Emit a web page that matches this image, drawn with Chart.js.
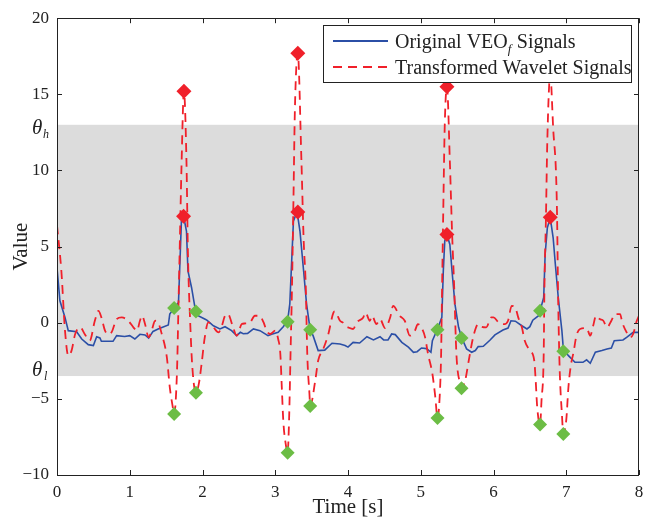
<!DOCTYPE html>
<html>
<head>
<meta charset="utf-8">
<script src="https://cdn.jsdelivr.net/npm/chart.js@4.4.0/dist/chart.umd.min.js"></script>
<style>
  html, body { margin: 0; padding: 0; background: #fff; }
</style>
</head>
<body>
<canvas id="signalChart" width="655" height="522"></canvas>
<script>
// original signal (blue)
var blueTime = [0.00, 0.04, 0.11, 0.155, 0.27, 0.34, 0.43, 0.50, 0.545, 0.59, 0.61, 0.77, 0.82, 0.93, 1.00, 1.07, 1.14, 1.21, 1.26, 1.32, 1.39, 1.53, 1.55, 1.61, 1.67, 1.71, 1.74, 1.78, 1.80, 1.85, 1.90, 1.94, 2.03, 2.06, 2.15, 2.24, 2.31, 2.40, 2.47, 2.52, 2.56, 2.62, 2.70, 2.79, 2.90, 2.95, 3.04, 3.11, 3.17, 3.20, 3.23, 3.25, 3.30, 3.34, 3.39, 3.43, 3.48, 3.52, 3.59, 3.68, 3.78, 3.89, 3.96, 4.00, 4.07, 4.16, 4.26, 4.35, 4.44, 4.49, 4.55, 4.60, 4.65, 4.74, 4.83, 4.90, 4.95, 5.01, 5.08, 5.14, 5.16, 5.23, 5.29, 5.31, 5.33, 5.36, 5.40, 5.43, 5.47, 5.52, 5.56, 5.63, 5.70, 5.75, 5.79, 5.86, 5.95, 6.02, 6.13, 6.20, 6.24, 6.30, 6.39, 6.46, 6.50, 6.54, 6.62, 6.64, 6.69, 6.71, 6.74, 6.78, 6.82, 6.85, 6.89, 6.94, 6.96, 7.03, 7.12, 7.23, 7.28, 7.33, 7.40, 7.49, 7.56, 7.62, 7.66, 7.78, 7.83, 7.92, 8.00];
var blueValue = [3.6, 1.44, 0.35, -0.52, -0.59, -1.07, -1.44, -1.5, -0.92, -1.0, -1.22, -1.22, -0.85, -0.9, -0.85, -1.07, -0.76, -0.8, -1.0, -0.57, -0.41, -0.15, 0.57, 0.96, 1.33, 6.67, 7.0, 6.0, 3.4, 2.3, 0.9, 0.46, 0.25, 0.17, -0.2, -0.41, -0.26, -0.52, -0.85, -0.63, -0.72, -0.7, -0.41, -0.52, -0.85, -0.75, -0.63, -0.26, 0.13, 1.24, 4.5, 6.67, 7.3, 6.0, 3.4, 1.24, -0.46, -0.85, -1.83, -1.8, -1.35, -1.4, -1.5, -1.6, -1.29, -1.33, -0.92, -1.13, -0.92, -1.13, -1.13, -0.74, -0.78, -1.29, -1.6, -1.94, -1.9, -1.66, -1.7, -1.94, -1.18, -0.41, 0.35, 3.4, 5.36, 5.8, 5.14, 3.4, 1.22, -0.3, -0.96, -1.72, -1.94, -1.83, -1.57, -1.55, -1.15, -0.8, -0.48, -0.35, 0.13, 0.1, -0.2, -0.41, -0.26, 0.17, 0.46, 0.78, 1.66, 4.5, 6.23, 6.9, 5.58, 3.84, 1.66, -0.52, -1.72, -2.16, -2.6, -2.6, -2.44, -2.66, -1.94, -1.83, -1.72, -1.66, -1.18, -1.13, -0.96, -0.63, -0.63];

// transformed wavelet signal (red dashed)
var redTime = [0.00, 0.06, 0.11, 0.155, 0.20, 0.25, 0.32, 0.38, 0.45, 0.52, 0.57, 0.61, 0.66, 0.70, 0.75, 0.82, 0.89, 0.98, 1.05, 1.10, 1.14, 1.17, 1.21, 1.26, 1.30, 1.35, 1.39, 1.44, 1.51, 1.55, 1.59, 1.61, 1.65, 1.67, 1.69, 1.71, 1.745, 1.78, 1.80, 1.83, 1.86, 1.91, 1.95, 1.99, 2.03, 2.08, 2.15, 2.22, 2.26, 2.31, 2.35, 2.42, 2.47, 2.54, 2.58, 2.65, 2.72, 2.78, 2.84, 2.88, 2.93, 3.00, 3.04, 3.07, 3.09, 3.11, 3.15, 3.17, 3.19, 3.21, 3.23, 3.25, 3.27, 3.31, 3.36, 3.39, 3.42, 3.44, 3.47, 3.48, 3.55, 3.59, 3.66, 3.73, 3.80, 3.82, 3.89, 3.93, 3.96, 4.00, 4.07, 4.12, 4.21, 4.24, 4.30, 4.33, 4.39, 4.44, 4.51, 4.58, 4.62, 4.71, 4.78, 4.85, 4.92, 4.96, 5.03, 5.06, 5.10, 5.16, 5.20, 5.23, 5.26, 5.28, 5.29, 5.31, 5.33, 5.36, 5.40, 5.43, 5.46, 5.49, 5.54, 5.56, 5.61, 5.66, 5.72, 5.79, 5.81, 5.90, 5.97, 6.00, 6.07, 6.15, 6.20, 6.25, 6.30, 6.34, 6.39, 6.43, 6.50, 6.56, 6.58, 6.60, 6.64, 6.66, 6.69, 6.70, 6.72, 6.74, 6.78, 6.82, 6.87, 6.89, 6.91, 6.94, 6.96, 7.00, 7.03, 7.06, 7.10, 7.14, 7.19, 7.28, 7.33, 7.37, 7.41, 7.46, 7.51, 7.56, 7.62, 7.67, 7.74, 7.77, 7.83, 7.88, 7.92, 7.97, 8.00];
var redValue = [6.4, 3.4, -0.52, -2.16, -1.83, -0.74, -0.3, -0.74, -1.18, 0.13, 0.78, 0.35, -0.52, -0.74, -0.63, 0.24, 0.35, 0.13, -0.3, -0.52, 0.13, 0.46, -0.09, -0.96, -0.52, 0.13, 0.02, -0.74, -2.27, -4.23, -5.5, -6.0, -3.1, 1.22, 5.58, 10.0, 15.2, 10.5, 4.5, 0.13, -2.9, -4.6, -4.0, -2.6, -1.0, 0.02, -0.3, -0.63, -0.3, 0.46, 0.57, -0.3, -0.85, -0.09, -0.05, 0.0, 0.46, 0.46, 0.02, -0.52, -0.74, -0.52, -1.07, -2.05, -4.23, -6.4, -8.15, -8.54, -6.4, -2.05, 2.3, 8.0, 14.0, 17.7, 10.6, 5.5, 2.3, -2.05, -4.66, -5.47, -3.8, -2.48, -1.72, -0.74, 0.67, 0.74, 0.13, 0.0, -0.2, -0.3, -0.41, 0.02, 0.35, 0.67, 0.13, 0.46, -0.09, 0.24, -0.35, 0.35, 1.11, 0.46, 0.13, -0.85, -0.52, -0.09, -0.52, -0.96, -2.05, -3.35, -4.88, -6.25, -4.88, -2.05, 1.22, 7.5, 13.0, 15.5, 10.6, 6.0, 2.3, -2.05, -4.0, -4.3, -3.8, -2.48, -0.96, -0.09, -0.2, -0.3, 0.35, 0.35, 0.02, -0.09, 0.13, 1.11, 1.0, 0.35, -0.3, -1.18, -1.83, -2.48, -3.8, -5.5, -6.69, -5.1, -2.05, 2.3, 6.67, 12.0, 16.3, 12.8, 8.0, 1.22, -3.1, -5.97, -7.3, -6.4, -4.23, -2.9, -1.94, -0.85, -0.41, -0.35, -0.85, -0.2, 0.46, 0.24, 0.13, -0.3, 0.13, 0.57, 0.57, 0.02, -0.63, -0.96, -0.74, 0.13, 0.46];

// red diamonds (maxima) and green diamonds (minima)
var peakTime = [1.745, 1.74, 3.31, 3.31, 5.36, 5.36, 6.78, 6.78];
var peakValue = [15.2, 7.0, 17.7, 7.27, 15.5, 5.8, 16.3, 6.93];
var valleyTime = [1.61, 1.61, 1.91, 1.91, 3.17, 3.17, 3.48, 3.48, 5.23, 5.23, 5.56, 5.56, 6.64, 6.64, 6.96, 6.96];
var valleyValue = [0.96, -6.0, 0.74, -4.6, 0.07, -8.54, -0.46, -5.47, -0.46, -6.25, -1.0, -4.3, 0.78, -6.69, -1.87, -7.3];

// thresholds
var thetaHigh = 13;
var thetaLow = -3.5;

var legendLabels = ['Original VEO', 'Transformed Wavelet Signals'];

function toPoints(xs, ys) {
    return xs.map(function(x, i) { return {x: x, y: ys[i]}; });
}

var SERIF = '"Liberation Serif", "Times New Roman", serif';
var BLUE = '#2b4fa6';
var RED = '#f0202a';
var GREEN = '#6cbd45';

// gray threshold band
var bandPlugin = {
    id: 'band',
    beforeDatasetsDraw: function(chart) {
        var ctx = chart.ctx, a = chart.chartArea, y = chart.scales.y;
        var top = y.getPixelForValue(thetaHigh), bot = y.getPixelForValue(thetaLow);
        ctx.save();
        ctx.fillStyle = '#dcdcdc';
        ctx.fillRect(a.left, top, a.right - a.left, bot - top);
        ctx.restore();
    }
};

// box, inward ticks, threshold labels, legend
var framePlugin = {
    id: 'frame',
    afterDraw: function(chart) {
        var ctx = chart.ctx, a = chart.chartArea;
        var xs = chart.scales.x, ys = chart.scales.y;
        ctx.save();
        ctx.strokeStyle = '#222';
        ctx.lineWidth = 1;
        ctx.beginPath();
        xs.ticks.forEach(function(t) {
            var px = Math.round(xs.getPixelForValue(t.value)) + 0.5;
            ctx.moveTo(px, a.bottom); ctx.lineTo(px, a.bottom - 5);
            ctx.moveTo(px, a.top); ctx.lineTo(px, a.top + 5);
        });
        ys.ticks.forEach(function(t) {
            var py = Math.round(ys.getPixelForValue(t.value)) + 0.5;
            ctx.moveTo(a.left, py); ctx.lineTo(a.left + 5, py);
            ctx.moveTo(a.right, py); ctx.lineTo(a.right - 5, py);
        });
        ctx.stroke();
        ctx.strokeRect(Math.round(a.left) + 0.5, Math.round(a.top) + 0.5,
            Math.round(a.right - a.left) - 1, Math.round(a.bottom - a.top));

        // theta labels
        ctx.fillStyle = '#222';
        ctx.textBaseline = 'alphabetic';
        var hy = ys.getPixelForValue(thetaHigh);
        var ly = ys.getPixelForValue(thetaLow);
        ctx.font = 'italic 21px ' + SERIF;
        ctx.fillText('\u03b8', 32, hy + 9);
        ctx.fillText('\u03b8', 32, ly + 0);
        ctx.font = 'italic 12px ' + SERIF;
        ctx.fillText('h', 43, hy + 13);
        ctx.fillText('l', 44, ly + 4);

        // legend
        var lx = 323.5, ly0 = 25.5, lw = 308, lh = 57;
        ctx.fillStyle = '#fff';
        ctx.fillRect(lx, ly0, lw, lh);
        ctx.strokeStyle = '#222';
        ctx.strokeRect(lx, ly0, lw, lh);
        ctx.lineWidth = 2;
        ctx.strokeStyle = BLUE;
        ctx.beginPath(); ctx.moveTo(333, 41); ctx.lineTo(388, 41); ctx.stroke();
        ctx.strokeStyle = RED;
        ctx.setLineDash([9, 6]);
        ctx.beginPath(); ctx.moveTo(333, 67); ctx.lineTo(388, 67); ctx.stroke();
        ctx.setLineDash([]);
        ctx.fillStyle = '#222';
        ctx.font = '20px ' + SERIF;
        ctx.fillText(legendLabels[0], 395, 48);
        var w0 = ctx.measureText(legendLabels[0]).width;
        ctx.font = 'italic 13px ' + SERIF;
        ctx.fillText('f', 395 + w0, 53);
        ctx.font = '20px ' + SERIF;
        ctx.fillText(' Signals', 395 + w0 + 4, 48);
        ctx.fillText(legendLabels[1], 395, 74);
        ctx.restore();
    }
};

var ctx = document.getElementById('signalChart').getContext('2d');
new Chart(ctx, {
    type: 'scatter',
    data: {
        datasets: [{
            label: 'Maxima',
            data: toPoints(peakTime, peakValue),
            pointStyle: 'rectRot',
            pointRadius: 7.5,
            backgroundColor: RED,
            borderColor: RED,
            borderWidth: 0,
            order: 1
        }, {
            label: 'Minima',
            data: toPoints(valleyTime, valleyValue),
            pointStyle: 'rectRot',
            pointRadius: 7,
            backgroundColor: GREEN,
            borderColor: GREEN,
            borderWidth: 0,
            order: 0
        }, {
            label: 'Transformed Wavelet Signals',
            data: toPoints(redTime, redValue),
            showLine: true,
            borderColor: RED,
            borderWidth: 1.8,
            borderDash: [9, 6],
            pointRadius: 0,
            cubicInterpolationMode: 'monotone',
            order: 2
        }, {
            label: 'Original VEO Signals',
            data: toPoints(blueTime, blueValue),
            showLine: true,
            borderColor: BLUE,
            borderWidth: 1.6,
            pointRadius: 0,
            tension: 0,
            order: 3
        }]
    },
    options: {
        responsive: false,
        animation: false,
        layout: { padding: { left: 0, right: 16, top: 16, bottom: 0 } },
        plugins: { legend: { display: false }, tooltip: { enabled: false } },
        scales: {
            x: {
                type: 'linear',
                min: 0,
                max: 8,
                afterFit: function(scale) { scale.height = 47; },
                ticks: { stepSize: 1, padding: 7, color: '#222', font: { family: SERIF, size: 17 } },
                grid: { drawOnChartArea: false, drawTicks: false },
                border: { display: false },
                title: { display: true, text: 'Time [s]', color: '#222', font: { family: SERIF, size: 21 }, padding: { top: 0, bottom: 2 } }
            },
            y: {
                min: -10,
                max: 20,
                afterFit: function(scale) { scale.width = 57; },
                ticks: {
                    stepSize: 5,
                    padding: 8,
                    color: '#222',
                    font: { family: SERIF, size: 17 },
                    callback: function(v) { return v < 0 ? '\u2212' + Math.abs(v) : '' + v; }
                },
                grid: { drawOnChartArea: false, drawTicks: false },
                border: { display: false },
                title: { display: true, text: 'Value', color: '#222', font: { family: SERIF, size: 21 }, padding: { top: 9, bottom: 0 } }
            }
        }
    },
    plugins: [bandPlugin, framePlugin]
});
</script>
</body>
</html>
